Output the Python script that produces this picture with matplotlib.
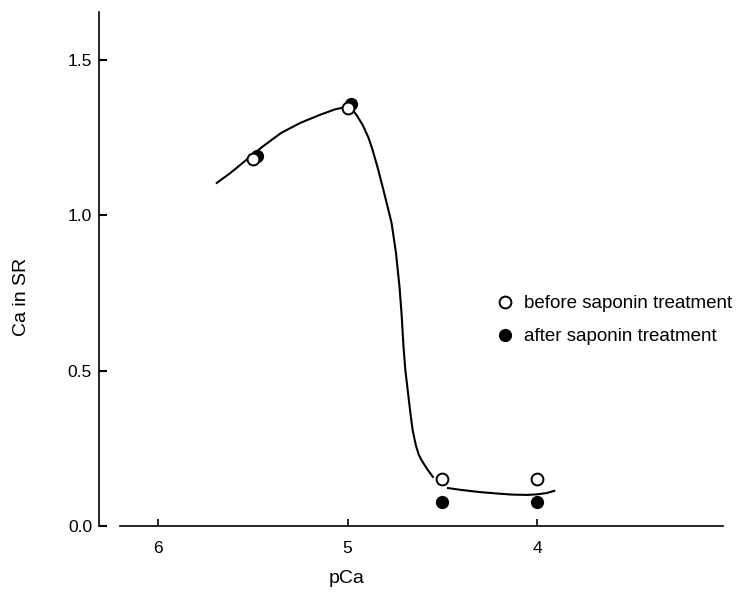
import numpy as np
import matplotlib
matplotlib.use("Agg")
import matplotlib.pyplot as plt

plt.rcParams['font.family'] = ['Liberation Sans', 'DejaVu Sans']

####measured points
pca_before = [5.5, 5.0, 4.5, 4.0]
ca_before = [1.18, 1.345, 0.15, 0.15]
pca_after = [5.48, 4.98, 4.5, 4.0]
ca_after = [1.19, 1.358, 0.077, 0.077]

####hand drawn fit curve (two pieces)
curve1_pca = [5.69, 5.62, 5.55, 5.45, 5.35, 5.25, 5.15, 5.07, 5.0, 4.98, 4.95, 4.92,
              4.89, 4.868, 4.84, 4.815, 4.79, 4.768, 4.745, 4.726, 4.715, 4.705, 4.695,
              4.683, 4.67, 4.657, 4.64, 4.625, 4.61, 4.58, 4.55]
curve1_ca = [1.104, 1.135, 1.17, 1.22, 1.265, 1.297, 1.322, 1.34, 1.35, 1.345, 1.32, 1.29,
             1.25, 1.21, 1.15, 1.091, 1.03, 0.975, 0.88, 0.769, 0.68, 0.576, 0.5,
             0.438, 0.37, 0.309, 0.26, 0.23, 0.212, 0.183, 0.158]
curve2_pca = [4.47, 4.4, 4.3, 4.2, 4.13, 4.05, 4.0, 3.95, 3.91]
curve2_ca = [0.122, 0.116, 0.109, 0.104, 0.101, 0.1, 0.102, 0.106, 0.113]

xticks = [6, 5, 4]
yticks = [0.0, 0.5, 1.0, 1.5]
ytick_labels = ["0.0", "0.5", "1.0", "1.5"]

fig = plt.figure(figsize=(7.39, 5.98), dpi=100)
ax = fig.add_axes([99/739, 72/598, 624/739, 514/598])

ax.plot(curve1_pca, curve1_ca, color='black', lw=1.5, zorder=2, solid_joinstyle='round')
ax.plot(curve2_pca, curve2_ca, color='black', lw=1.5, zorder=2, solid_joinstyle='round')

ax.plot(pca_after, ca_after, 'o', ms=8.5, color='black', mec='black', zorder=3,
        label='after saponin treatment')
ax.plot(pca_before, ca_before, 'o', ms=8.5, mfc='white', mec='black', mew=1.4, zorder=4,
        label='before saponin treatment')

ax.set_xlim(6.311, 3.02)
ax.set_ylim(0, 1.654)

ax.spines['top'].set_visible(False)
ax.spines['right'].set_visible(False)
ax.spines['left'].set_linewidth(1.2)
ax.spines['bottom'].set_linewidth(1.2)
ax.spines['bottom'].set_bounds(6.2, 3.02)

ax.set_xticks(xticks)
ax.set_xticklabels([str(t) for t in xticks])
ax.set_yticks(yticks)
ax.set_yticklabels(ytick_labels)
ax.tick_params(axis='y', direction='in', length=6, width=1.5, labelsize=12.5, pad=5)
ax.tick_params(axis='x', direction='in', length=5, width=1.2, labelsize=12.5, pad=11)

ax.set_xlabel('pCa', fontsize=14)
ax.xaxis.set_label_coords(0.397, -0.085)
ax.set_ylabel('Ca in SR', fontsize=14)
ax.yaxis.set_label_coords(-0.11, 0.445)

h, l = ax.get_legend_handles_labels()
ax.legend(h[::-1], l[::-1], loc='upper left', bbox_to_anchor=(0.637, 0.449),
          frameon=False, fontsize=13.5, borderpad=0, borderaxespad=0,
          handlelength=0.9, handletextpad=0.55, labelspacing=0.85)

fig.savefig('out.png', dpi=100)
